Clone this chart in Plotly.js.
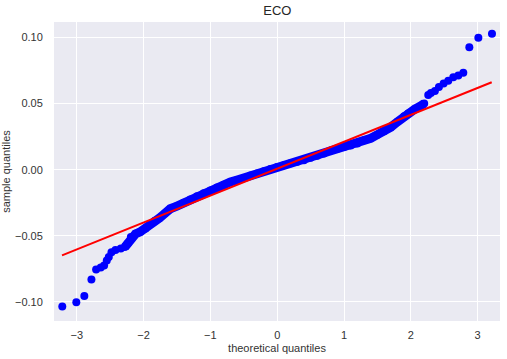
<!DOCTYPE html>
<html>
<head>
<meta charset="utf-8">
<script src="https://cdn.plot.ly/plotly-3.0.1.min.js"></script>
<style>html,body{margin:0;padding:0;background:#fff;}#chart{width:507px;height:359px;}</style>
</head>
<body>
<div id="chart"></div>
<script>
// theoretical quantiles (x) and sample quantiles (y)
const theoretical = [-3.216,-3.006,-2.886,-2.780,-2.710,-2.640,-2.590,-2.550,-2.520,-2.480,-2.420,-2.340,-2.280,-2.240,-2.190,-2.120,-2.050,-1.970,-1.900,-1.830,-1.760,-1.680,-1.600,-1.500,-1.400,-1.300,-1.200,-1.100,-1.000,-0.900,-0.800,-0.700,-0.600,-0.500,-0.400,-0.300,-0.200,-0.100,0.000,0.100,0.200,0.300,0.400,0.500,0.600,0.700,0.800,0.900,1.000,1.100,1.200,1.300,1.400,1.500,1.600,1.700,1.800,1.900,1.960,2.060,2.140,2.200,2.260,2.300,2.360,2.420,2.490,2.560,2.635,2.710,2.785,2.875,3.010,3.214];
const sample = [-0.1035,-0.1003,-0.0955,-0.0830,-0.0755,-0.0740,-0.0725,-0.0687,-0.0660,-0.0625,-0.0608,-0.0595,-0.0585,-0.0560,-0.0508,-0.0485,-0.0470,-0.0445,-0.0410,-0.0385,-0.0365,-0.0330,-0.0295,-0.0275,-0.0250,-0.0225,-0.0200,-0.0178,-0.0157,-0.0134,-0.0114,-0.0093,-0.0078,-0.0062,-0.0043,-0.0028,-0.0012,0.0006,0.0020,0.0034,0.0048,0.0060,0.0072,0.0090,0.0106,0.0122,0.0146,0.0158,0.0172,0.0184,0.0198,0.0222,0.0238,0.0265,0.0290,0.0322,0.0362,0.0405,0.0425,0.0458,0.0480,0.0500,0.0565,0.0580,0.0595,0.0625,0.0652,0.0672,0.0700,0.0712,0.0733,0.0927,0.0998,0.1028];
// reference (fit) line end points
const lineX = [-3.22, 3.21];
const lineY = [-0.0648, 0.0661];
const xTicks = [-3,-2,-1,0,1,2,3];
const yTicks = [-0.10,-0.05,0.00,0.05,0.10];

// dense middle part drawn also as a thick band (points are packed there)
const bandX = [], bandY = [];
theoretical.forEach((x,i)=>{ if (x >= -2.30 && x <= 2.22) { bandX.push(x); bandY.push(sample[i]); } });

const blue = '#0000ff';
const data = [
  {x: bandX, y: bandY, mode: 'lines', line: {color: blue, width: 9}, hoverinfo: 'skip', showlegend: false},
  {x: theoretical, y: sample, mode: 'markers', marker: {color: blue, size: 8}, showlegend: false},
  {x: lineX, y: lineY, mode: 'lines', line: {color: '#ff0000', width: 2}, showlegend: false}
];
const fontFam = 'Liberation Sans, Arial, sans-serif';
const layout = {
  width: 507, height: 359,
  margin: {l: 54, r: 7, t: 22, b: 38},
  paper_bgcolor: '#ffffff',
  plot_bgcolor: '#EAEAF2',
  font: {family: fontFam, size: 11, color: '#333333'},
  title: {text: 'ECO', font: {family: fontFam, size: 13, color: '#262626'}, x: 0.547, xanchor: 'center', y: 0.972, yanchor: 'middle'},
  xaxis: {
    range: [-3.34, 3.334], tickvals: xTicks, ticktext: xTicks.map(v => v < 0 ? '\u2212' + Math.abs(v) : String(v)),
    showgrid: true, gridcolor: '#ffffff', gridwidth: 1, zeroline: false, showline: false,
    ticks: 'outside', ticklen: 4, tickcolor: 'rgba(0,0,0,0)',
    title: {text: 'theoretical quantiles', font: {size: 11, color: '#333333'}, standoff: 4}
  },
  yaxis: {
    range: [-0.1144, 0.1117], tickvals: yTicks, ticktext: yTicks.map(v => (v < 0 ? '\u2212' : '') + Math.abs(v).toFixed(2)),
    showgrid: true, gridcolor: '#ffffff', gridwidth: 1, zeroline: false, showline: false,
    ticks: 'outside', ticklen: 8, tickcolor: 'rgba(0,0,0,0)',
    title: {text: 'sample quantiles', font: {size: 11, color: '#333333'}, standoff: 3}
  }
};
Plotly.newPlot('chart', data, layout, {displayModeBar: false, staticPlot: true});
</script>
</body>
</html>
